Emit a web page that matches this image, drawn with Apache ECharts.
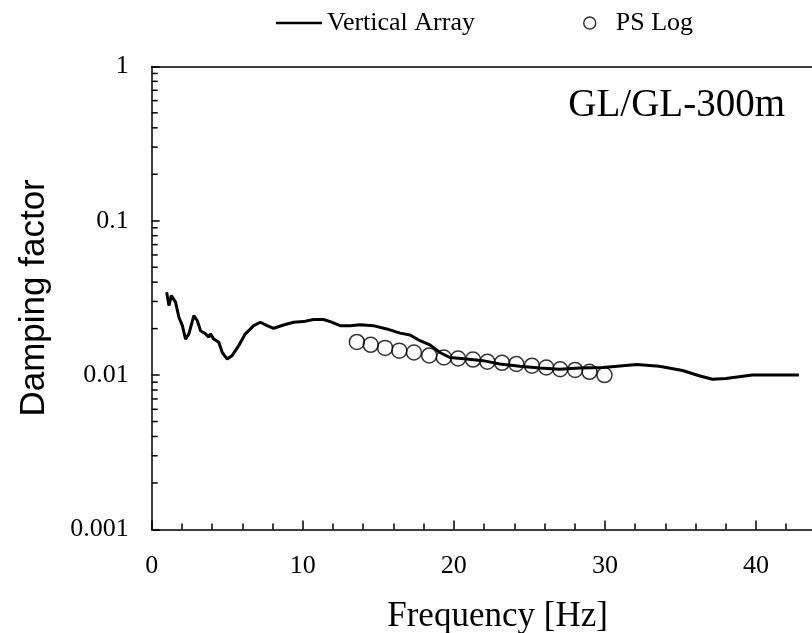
<!DOCTYPE html>
<html><head><meta charset="utf-8">
<script src="https://cdn.jsdelivr.net/npm/echarts@6/dist/echarts.min.js"></script>
<style>html,body{margin:0;padding:0;background:#fff}#c{width:812px;height:633px}</style>
</head><body><div id="c"></div>
<script>
const arrayFreq = [0.99,1.14,1.30,1.43,1.58,1.80,2.03,2.24,2.46,2.79,3.02,3.23,3.56,3.78,3.89,4.11,4.44,4.67,5.0,5.33,5.76,6.2,6.75,7.19,7.64,8.07,8.73,9.39,10.05,10.71,11.37,11.82,12.48,13.14,13.79,14.67,15.56,16.44,17.10,17.76,18.42,19.08,19.74,20.84,21.93,23.04,24.36,25.68,27.0,28.32,29.86,31.18,32.1,33.6,35.14,36.24,37.12,38.0,39.76,42.84];
const arrayDamp = [0.0344,0.0282,0.0327,0.0331,0.0297,0.0237,0.0209,0.0171,0.0185,0.0243,0.0225,0.0194,0.0185,0.0176,0.0185,0.0171,0.0163,0.0140,0.0127,0.0134,0.0155,0.0185,0.0209,0.0220,0.0209,0.0201,0.0211,0.0220,0.0222,0.0229,0.0229,0.0222,0.0209,0.0209,0.0212,0.0209,0.0199,0.0187,0.0182,0.0167,0.0157,0.0140,0.0130,0.0127,0.0124,0.0118,0.0114,0.0111,0.0109,0.0111,0.0112,0.0115,0.0117,0.0114,0.0107,0.0099,0.0094,0.0095,0.0100,0.0100];
const psFreq = [13.58,14.50,15.45,16.39,17.36,18.37,19.34,20.28,21.27,22.22,23.19,24.14,25.17,26.12,27.04,28.03,28.98,29.97];
const psDamp = [0.0164,0.0157,0.0150,0.0144,0.0140,0.0134,0.0130,0.0128,0.0126,0.0122,0.0120,0.0118,0.0115,0.0112,0.0109,0.0108,0.0105,0.0100];
const yMinorTicks = [];
[0.001,0.01,0.1].forEach(d=>{for(let k=2;k<=9;k++) yMinorTicks.push(+(d*k).toPrecision(3));});

const serif = '"Liberation Serif","DejaVu Serif",serif';
const chart = echarts.init(document.getElementById('c'));
chart.setOption({
  animation:false,
  backgroundColor:'#fff',
  grid:{left:151.7,top:66.4,right:-4.4,bottom:103.6,containLabel:false,outerBoundsMode:'none'},
  legend:[{
    top:10,left:276,itemWidth:46,itemHeight:12,itemGap:0,padding:0,
    textStyle:{fontFamily:serif,fontSize:26,color:'#000'},
    data:[{name:'Vertical Array',icon:'path://M0,5L44,5L44,7.2L0,7.2Z'}]
  },{
    top:10,left:583,itemWidth:42,itemHeight:12,itemGap:0,padding:0,
    textStyle:{fontFamily:serif,fontSize:26,color:'#000'},
    data:[{name:'PS Log',icon:'circle',itemStyle:{color:'#fff',borderColor:'#000',borderWidth:1.5}}]
  }],
  graphic:[{type:'text',right:27,top:86,style:{text:'GL/GL-300m',fontFamily:serif,fontSize:39,fill:'#000'}}],
  xAxis:[{
    type:'value',min:0,max:44,interval:10,
    name:'Frequency [Hz]',nameLocation:'middle',nameGap:70,
    nameTextStyle:{fontFamily:serif,fontSize:35,color:'#000',padding:[0,0,0,27]},
    axisLine:{show:true,lineStyle:{color:'#000',width:1.5}},
    axisTick:{show:true,inside:true,length:9,lineStyle:{color:'#000',width:1.5}},
    minorTick:{show:true,splitNumber:5,length:6,lineStyle:{color:'#000',width:1.5}},
    axisLabel:{fontFamily:serif,fontSize:26,color:'#000',margin:24,showMaxLabel:false},
    splitLine:{show:false}
  },{
    type:'value',min:0,max:44,position:'top',
    axisLine:{show:true,onZero:false,lineStyle:{color:'#000',width:1.5}},
    axisTick:{show:false},axisLabel:{show:false},splitLine:{show:false}
  }],
  yAxis:{
    type:'log',logBase:10,min:0.001,max:1,
    name:'Damping factor',nameLocation:'middle',nameGap:100,
    nameTextStyle:{fontFamily:'"Liberation Sans",Arial,sans-serif',fontSize:35,color:'#000'},
    axisLine:{show:true,lineStyle:{color:'#000',width:1.5}},
    axisTick:{show:true,inside:true,length:8,lineStyle:{color:'#000',width:1.5}},
    axisLabel:{fontFamily:serif,fontSize:26,color:'#000',margin:23,formatter:v=>String(+v.toPrecision(3))},
    splitLine:{show:false}
  },
  series:[{
    name:'Vertical Array',type:'line',showSymbol:false,symbol:'none',
    data:arrayFreq.map((f,i)=>[f,arrayDamp[i]]),
    lineStyle:{color:'#000',width:3},itemStyle:{color:'#000'},z:3
  },{
    name:'PS Log',type:'scatter',symbol:'circle',symbolSize:15,
    data:psFreq.map((f,i)=>[f,psDamp[i]]),
    itemStyle:{color:'rgba(255,255,255,0)',borderColor:'#000',borderWidth:1.5},z:4
  },{
    name:'minor',type:'custom',silent:true,clip:false,
    data:yMinorTicks.map(v=>[0,v]),
    renderItem:(params,api)=>{
      const p=api.coord([0,api.value(1)]);
      return {type:'line',shape:{x1:p[0],y1:p[1],x2:p[0]+6,y2:p[1]},style:{stroke:'#000',lineWidth:1.5}};
    }
  }]
});
</script></body></html>
